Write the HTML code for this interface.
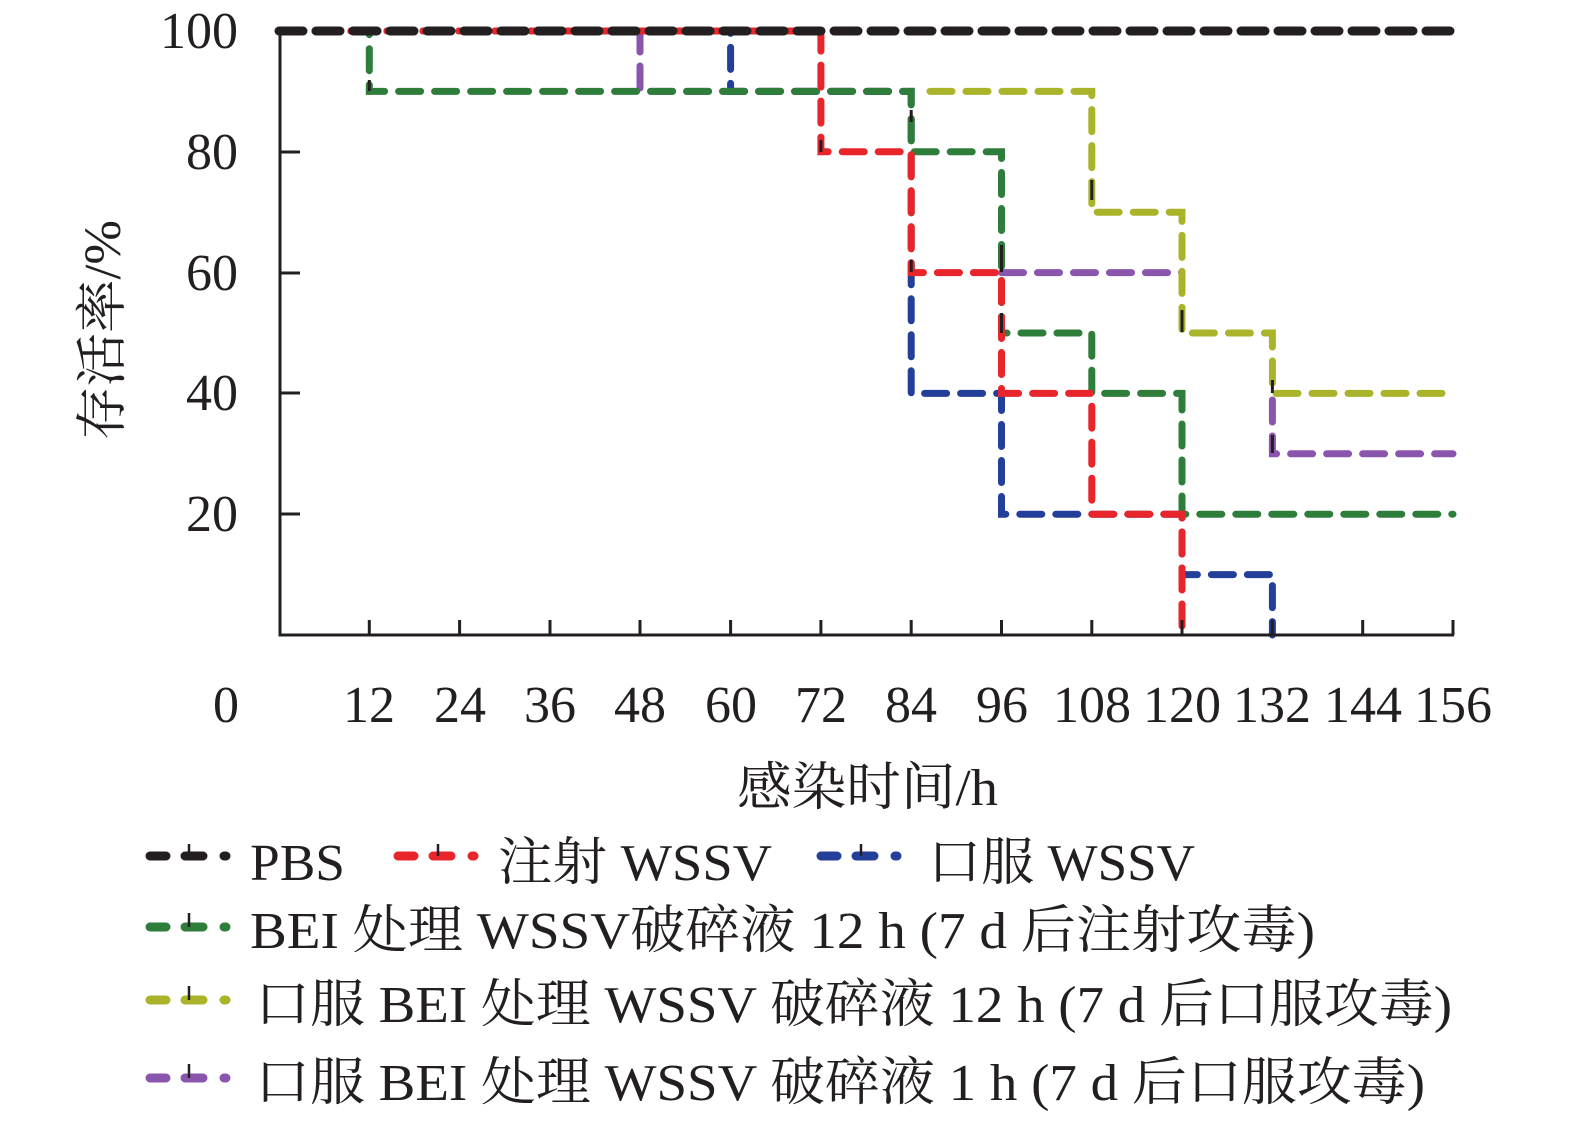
<!DOCTYPE html>
<html><head><meta charset="utf-8"><style>
html,body{margin:0;padding:0;background:#fff;}
svg{display:block;}
text{font-family:"Liberation Serif","Noto Serif CJK SC",serif;fill:#231f20;}
</style></head><body>
<svg width="1575" height="1122" viewBox="0 0 1575 1122" xmlns="http://www.w3.org/2000/svg">
<g fill="none" stroke-linecap="round" stroke-linejoin="miter">
<path d="M279,31 H640 V91.4 H900 M1001.5,272.6 H1182 M1272.4,400 V453.8 H1453" stroke="#8a55ad" stroke-width="7" stroke-dasharray="22 14"/>
<path d="M930,91.4 H1091.8 V212.2 H1182 V333 H1272.4 V393.4 H1453" stroke="#aab42b" stroke-width="7" stroke-dasharray="22 14"/>
<path d="M279,31 H730.6 V91.4 H911.2 V393.4 H1001.5 V514.2 H1182 V574.6 H1272.4 V635" stroke="#233f99" stroke-width="7" stroke-dasharray="22 14"/>
<path d="M279,31 H369.3 V91.4 H911.2 V151.8 H1001.5 V333 H1091.8 V393.4 H1182 V514.2 H1453" stroke="#2e7d3a" stroke-width="7" stroke-dasharray="22 14"/>
<path d="M279,31 H820.9 V151.8 H911.2 V272.6 H1001.5 V393.4 H1091.8 V514.2 H1182 V635" stroke="#e8252a" stroke-width="7" stroke-dasharray="22 14"/>
<path d="M279,31 H1453" stroke="#231f20" stroke-width="9" stroke-dasharray="24 13"/>
</g>
<g stroke="#231f20" stroke-width="3" fill="none">
<path d="M280,31 V635 H1454"/>
<path d="M280,152 H300 M280,273 H300 M280,393 H300 M280,514 H300"/>
<path d="M369.3,635 V620 M459.6,635 V620 M550,635 V620 M640,635 V620 M730.6,635 V620 M820.9,635 V620 M911.2,635 V620 M1001.5,635 V620 M1091.8,635 V620 M1182,635 V620 M1272.4,635 V620 M1362.7,635 V620 M1453,635 V620"/>
<path d="M369.3,80 V91 M820.9,140 V152 M911.2,110 V122 M911.2,260 V272 M1001.5,245 V272 M1001.5,313 V333 M1091.8,180 V200 M1182,310 V332 M1272.4,435 V453 M1272.4,380 V393"/>
</g>
<g font-size="52" text-anchor="end">
<text x="238" y="48">100</text>
<text x="238" y="169">80</text>
<text x="238" y="290">60</text>
<text x="238" y="410">40</text>
<text x="238" y="531">20</text>
</g>
<g font-size="52" text-anchor="middle">
<text x="226" y="722">0</text>
<text x="369" y="722">12</text><text x="460" y="722">24</text><text x="550" y="722">36</text><text x="640" y="722">48</text><text x="731" y="722">60</text><text x="821" y="722">72</text><text x="911" y="722">84</text><text x="1002" y="722">96</text><text x="1092" y="722">108</text><text x="1182" y="722">120</text><text x="1272" y="722">132</text><text x="1363" y="722">144</text><text x="1453" y="722">156</text>
</g>
<text x="737" y="805" font-size="52" textLength="261" lengthAdjust="spacingAndGlyphs">感染时间/h</text>
<text transform="translate(120,440) rotate(-90)" font-size="52" textLength="220" lengthAdjust="spacingAndGlyphs">存活率/%</text>
<g fill="none" stroke-linecap="round" stroke-width="9">
<path d="M150,856 H166 M185,856 H203 M224,856 H226" stroke="#231f20"/>
<path d="M398,856 H414 M433,856 H451 M472,856 H474" stroke="#e8252a"/>
<path d="M821,856 H837 M856,856 H874 M895,856 H897" stroke="#233f99"/>
<path d="M150,927 H166 M185,927 H203 M224,927 H226" stroke="#2e7d3a"/>
<path d="M150,1000 H166 M185,1000 H203 M224,1000 H226" stroke="#aab42b"/>
<path d="M150,1078 H166 M185,1078 H203 M224,1078 H226" stroke="#8a55ad"/>
</g>
<g stroke="#231f20" stroke-width="2.5">
<path d="M189,844 V856 M438,844 V856 M861,844 V856 M189,913 V927 M189,986 V1000 M189,1064 V1078"/>
</g>
<g font-size="52">
<text x="250" y="880" textLength="95" lengthAdjust="spacingAndGlyphs">PBS</text>
<text x="498" y="880" textLength="274" lengthAdjust="spacingAndGlyphs">注射 WSSV</text>
<text x="928" y="880" textLength="267" lengthAdjust="spacingAndGlyphs">口服 WSSV</text>
<text x="250" y="948" textLength="1065" lengthAdjust="spacingAndGlyphs">BEI 处理 WSSV破碎液 12 h (7 d 后注射攻毒)</text>
<text x="255" y="1022" textLength="1197" lengthAdjust="spacingAndGlyphs">口服 BEI 处理 WSSV 破碎液 12 h (7 d 后口服攻毒)</text>
<text x="255" y="1100" textLength="1170" lengthAdjust="spacingAndGlyphs">口服 BEI 处理 WSSV 破碎液 1 h (7 d 后口服攻毒)</text>
</g>
</svg>
</body></html>
